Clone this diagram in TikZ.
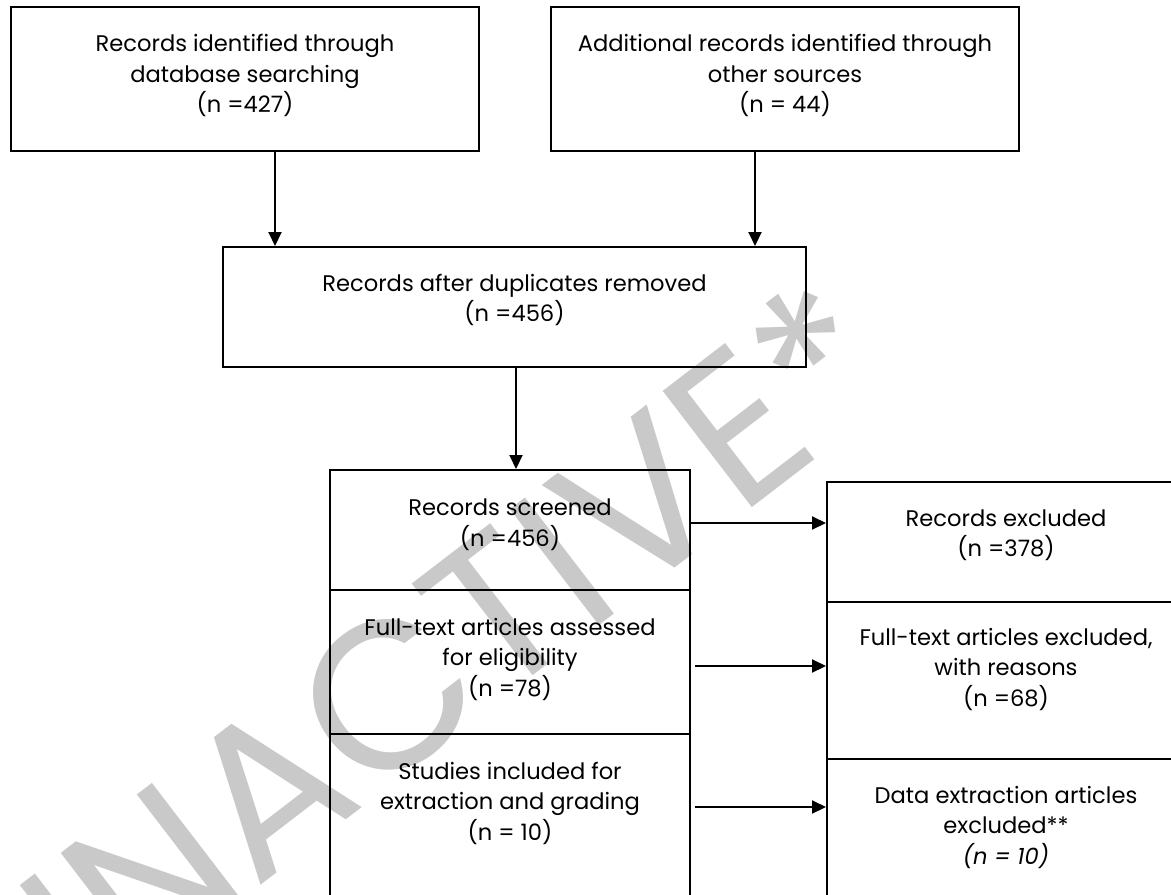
\documentclass[tikz,border=0pt]{standalone}
\usepackage{fontspec}
\setmainfont{Poppins}
\usetikzlibrary{arrows.meta,positioning}

\begin{document}
\begin{tikzpicture}
  [
    x=0.5pt, y=-0.5pt,
    Box/.style={rectangle, draw=black, line width=1pt, align=center, inner sep=0pt, font=\fontsize{11.3}{15.2}\selectfont},
    Arrow/.style={-{Triangle[length=7pt, width=6.5pt]}, line width=1pt},
    Mark/.style={text=black!21, font=\fontsize{105}{105}\selectfont, rotate=37.5}
  ]
  \useasboundingbox (0,0) rectangle (1171,894);
  % Watermark
  \node[Mark] (mark) at (455, 640) {INACTIVE*};
  % Nodes
  \node[Box, minimum width=234pt, minimum height=72pt] (ident) at (245, 79)
    {Records identified through\\database searching\\(n =427)\\[-9.7pt]};
  \node[Box, minimum width=234pt, minimum height=72pt] (other) at (785, 79)
    {Additional records identified through\\other sources\\(n = 44)\\[-9.7pt]};
  \node[Box, minimum width=291.5pt, minimum height=60pt] (dedup) at (514.5, 307)
    {Records after duplicates removed\\(n =456)\\[-6.2pt]};
  \node[Box, minimum width=180pt, minimum height=60pt] (screened) at (510, 530)
    {Records screened\\(n =456)\\[-7.7pt]};
  \node[Box, minimum width=180pt, minimum height=72pt] (assessed) at (510, 662)
    {Full-text articles assessed\\for eligibility\\(n =78)\\[-10.2pt]};
  \node[Box, minimum width=180pt, minimum height=88pt] (included) at (510, 822)
    {Studies included for\\extraction and grading\\(n = 10)\\[5.8pt]};
  \node[Box, minimum width=179pt, minimum height=60pt] (excluded) at (1006, 542)
    {Records excluded\\(n =378)\\[-6.2pt]};
  \node[Box, minimum width=179pt, minimum height=78.5pt] (ftexcluded) at (1006, 680.5)
    {Full-text articles excluded,\\with reasons\\(n =68)\\[-1.7pt]};
  \node[Box, minimum width=179pt, minimum height=75.5pt] (dataexcluded) at (1006, 834.5)
    {Data extraction articles\\excluded**\\\textit{(n = 10)}\\[-5.7pt]};
  % Lines
  \draw[Arrow] ([xshift=15pt]ident.south) -- ([xshift=15pt]ident.south |- dedup.north);
  \draw[Arrow] ([xshift=-15pt]other.south) -- ([xshift=-15pt]other.south |- dedup.north);
  \draw[Arrow] ([xshift=0.75pt]dedup.south) -- ([xshift=0.75pt]dedup.south |- screened.north);
  \draw[Arrow] ([yshift=3.5pt]screened.east) -- ([yshift=3.5pt]screened.east -| excluded.west);
  \draw[Arrow] ([xshift=2pt, yshift=-2pt]assessed.east) -- ([yshift=-2pt]assessed.east -| ftexcluded.west);
  \draw[Arrow] ([xshift=2pt, yshift=7.5pt]included.east) -- ([yshift=7.5pt]included.east -| dataexcluded.west);
\end{tikzpicture}
\end{document}
